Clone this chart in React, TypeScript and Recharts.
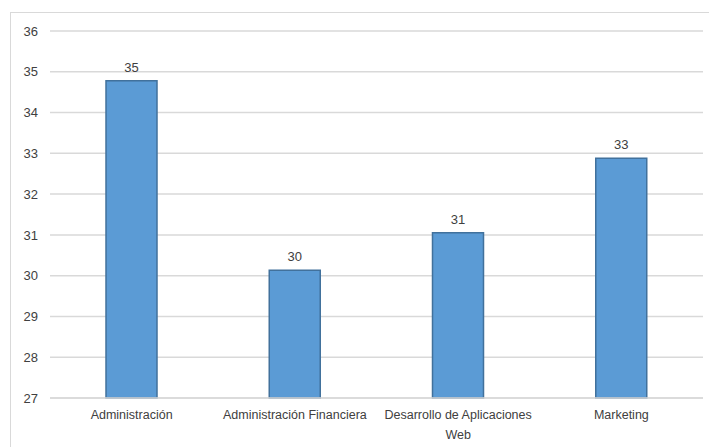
import React from 'react';
import { BarChart, Bar, XAxis, YAxis, CartesianGrid, LabelList } from 'recharts';

const categories = [
  'Administración',
  'Administración Financiera',
  'Desarrollo de Aplicaciones Web',
  'Marketing',
];
const values = [34.78, 30.13, 31.05, 32.88];
const yTicks = [27, 28, 29, 30, 31, 32, 33, 34, 35, 36];

const data = categories.map((name, i) => ({ name, value: values[i] }));

const FONT = '"Liberation Sans", Arial, sans-serif';

// Split long category names onto two lines, like the original
const CategoryTick = (props: any) => {
  const { x, y, payload } = props;
  const text: string = payload.value;
  let lines = [text];
  if (text.length > 26) {
    const cut = text.lastIndexOf(' ');
    lines = [text.slice(0, cut), text.slice(cut + 1)];
  }
  return (
    <text x={x} y={y} textAnchor="middle" fill="#404040" fontSize={12.5} fontFamily={FONT}>
      {lines.map((l, i) => (
        <tspan key={i} x={x} dy={i === 0 ? 13 : 20}>
          {l}
        </tspan>
      ))}
    </text>
  );
};

export default function App() {
  return (
    <div
      style={{
        position: 'absolute',
        left: 10,
        top: 12,
        width: 720,
        height: 440,
        border: '1px solid #d9d9d9',
        background: '#fff',
      }}
    >
      <BarChart
        width={700}
        height={430}
        data={data}
        margin={{ top: 18, right: 8, bottom: 0, left: 0 }}
      >
        <CartesianGrid vertical={false} stroke="#d9d9d9" strokeWidth={1.5} />
        <XAxis
          dataKey="name"
          axisLine={{ stroke: '#d9d9d9', strokeWidth: 1.5 }}
          tickLine={false}
          height={45}
          interval={0}
          tick={<CategoryTick />}
        />
        <YAxis
          domain={[27, 36]}
          ticks={yTicks}
          width={39}
          axisLine={false}
          tickLine={false}
          tickSize={0}
          tickMargin={12}
          tick={{ fill: '#404040', fontSize: 13, fontFamily: FONT }}
        />
        <Bar
          dataKey="value"
          fill="#5b9bd5"
          stroke="#41719c"
          strokeWidth={1.5}
          barSize={51}
          isAnimationActive={false}
        >
          <LabelList
            dataKey="value"
            position="top"
            offset={9}
            formatter={(v: any) => Math.round(Number(v))}
            fill="#404040"
            fontSize={13}
            fontFamily={FONT}
          />
        </Bar>
      </BarChart>
    </div>
  );
}
